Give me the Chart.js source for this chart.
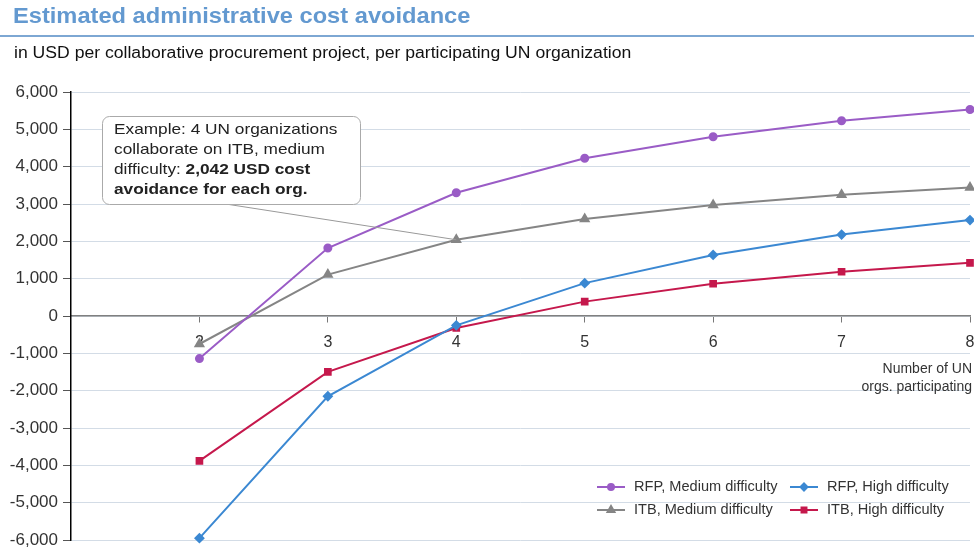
<!DOCTYPE html>
<html>
<head>
<meta charset="utf-8">
<script src="https://cdn.jsdelivr.net/npm/chart.js@4.4.1/dist/chart.umd.min.js"></script>
<style>
  body { margin: 0; background: #fff; font-family: "Liberation Sans", Arial, sans-serif; }
  #wrap { position: relative; width: 974px; height: 550px; }
  #wrap h1 { position: absolute; left: 13px; top: 3px; margin: 0; font-size: 22px; font-weight: bold; color: #6399d0; white-space: nowrap; transform: scaleX(1.075); transform-origin: left center; }
  #wrap .rule { position: absolute; left: 0; top: 35px; width: 974px; height: 2px; background: #7da7d3; }
  #wrap .sub { position: absolute; left: 14px; top: 44px; margin: 0; font-size: 16px; color: #111; white-space: nowrap; transform: scaleX(1.1); transform-origin: left center; }
  canvas { position: absolute; left: 0; top: 0; }
</style>
</head>
<body>
<div id="wrap">
  <canvas id="myChart" width="974" height="550"></canvas>
  <h1>Estimated administrative cost avoidance</h1>
  <div class="rule"></div>
  <p class="sub">in USD per collaborative procurement project, per participating UN organization</p>
</div>
<script>
// number of UN orgs participating
const orgs = [2, 3, 4, 5, 6, 7, 8];

// cost avoidance in USD
const rfpMedium = [-1140, 1820, 3300, 4225, 4800, 5230, 5530];
const rfpHigh   = [-5950, -2150, -250, 880, 1635, 2180, 2570];
const itbMedium = [-750, 1110, 2042, 2600, 2970, 3245, 3440];
const itbHigh   = [-3880, -1495, -320, 385, 865, 1185, 1425];

const seriesNames = ['RFP, Medium difficulty', 'RFP, High difficulty', 'ITB, Medium difficulty', 'ITB, High difficulty'];

const yMin = -6000, yMax = 6000, yStep = 1000;

const toPoints = vals => vals.map((v, i) => ({x: orgs[i], y: v}));

const FONT = '"Liberation Sans", Arial, sans-serif';

// the source picture is a bit stretched sideways, so text gets widened
function wideText(ctx, text, x, y, sx) {
  ctx.save();
  ctx.translate(x, y);
  ctx.scale(sx, 1);
  ctx.fillText(text, 0, 0);
  ctx.restore();
  return ctx.measureText(text).width * sx;
}

const notePlugin = {
  id: 'note',
  afterDraw: (chart) => {
    const {ctx, chartArea} = chart;
    const xs = chart.scales.x, ys = chart.scales.y;
    ctx.save();

    // x axis caption
    ctx.fillStyle = '#333';
    ctx.font = '14px ' + FONT;
    ctx.textAlign = 'right';
    ctx.textBaseline = 'middle';
    ctx.fillText('Number of UN', chartArea.right + 2, 369);
    ctx.fillText('orgs. participating', chartArea.right + 2, 387);

    // leader line to the example point (ITB, medium, 4 orgs)
    const px = xs.getPixelForValue(orgs[2]);
    const py = ys.getPixelForValue(itbMedium[2]);
    ctx.strokeStyle = '#999';
    ctx.lineWidth = 1;
    ctx.beginPath();
    ctx.moveTo(200, 200);
    ctx.lineTo(px, py);
    ctx.stroke();

    // callout box
    const bx = 102, by = 116, bw = 258, bh = 88, r = 7;
    ctx.fillStyle = '#fff';
    ctx.strokeStyle = '#aaa';
    ctx.beginPath();
    ctx.roundRect(bx + 0.5, by + 0.5, bw, bh, r);
    ctx.fill();
    ctx.stroke();

    ctx.textAlign = 'left';
    ctx.fillStyle = '#222';
    const sx = 1.15;
    ctx.font = '15px ' + FONT;
    wideText(ctx, 'Example: 4 UN organizations', 114, 130, sx);
    wideText(ctx, 'collaborate on ITB, medium', 114, 150, sx);
    const w = wideText(ctx, 'difficulty: ', 114, 170, sx);
    ctx.font = 'bold 15px ' + FONT;
    wideText(ctx, '2,042 USD cost', 114 + w, 170, sx);
    wideText(ctx, 'avoidance for each org.', 114, 190, sx);

    // legend
    const cols = [597, 790];
    const rows = [487, 510];
    ctx.font = '14px ' + FONT;
    chart.data.datasets.forEach((ds, i) => {
      const lx = cols[i % 2], ly = rows[Math.floor(i / 2)];
      ctx.strokeStyle = ds.borderColor;
      ctx.fillStyle = ds.backgroundColor;
      ctx.lineWidth = 2;
      ctx.beginPath();
      ctx.moveTo(lx, ly);
      ctx.lineTo(lx + 28, ly);
      ctx.stroke();
      Chart.helpers.drawPoint(ctx, {
        pointStyle: ds.pointStyle,
        radius: ds.pointRadius - 0.5,
        rotation: 0,
        borderWidth: 1
      }, lx + 14, ly);
      ctx.fillStyle = '#333';
      wideText(ctx, ds.label, lx + 37, ly, 1.04);
    });

    ctx.restore();
  }
};

const mk = (label, vals, color, style, radius) => ({
  label: label,
  data: toPoints(vals),
  borderColor: color,
  backgroundColor: color,
  pointBackgroundColor: color,
  pointBorderColor: color,
  pointStyle: style,
  pointRadius: radius,
  borderWidth: 2,
  tension: 0,
  clip: false
});

const data = {
  datasets: [
    mk(seriesNames[0], rfpMedium, '#9a5cc6', 'circle', 3.5),
    mk(seriesNames[1], rfpHigh, '#3b88d2', 'rectRot', 4),
    mk(seriesNames[2], itbMedium, '#858585', 'triangle', 4.5),
    mk(seriesNames[3], itbHigh, '#c5184c', 'rect', 4)
  ]
};

const config = {
  type: 'line',
  data: data,
  options: {
    responsive: false,
    animation: false,
    layout: { autoPadding: false, padding: { top: 92, bottom: 10, left: 0, right: 4 } },
    plugins: {
      legend: { display: false },
      tooltip: { enabled: false }
    },
    scales: {
      x: {
        type: 'linear',
        position: { y: 0 },
        min: 1,
        max: 8,
        afterBuildTicks: (scale) => {
          scale.ticks = orgs.map(v => ({ value: v }));
        },
        afterFit: (scale) => { scale.paddingLeft = 0; scale.paddingRight = 0; },
        ticks: {
          padding: 11,
          color: '#333',
          font: { family: FONT, size: 16 },
          callback: (v) => String(v)
        },
        grid: { drawOnChartArea: false, drawTicks: true, tickLength: 6, color: '#777' },
        border: { color: '#808080', width: 1.5 }
      },
      y: {
        type: 'linear',
        min: yMin,
        max: yMax,
        afterFit: (scale) => { scale.width = 71; scale.paddingTop = 0; scale.paddingBottom = 0; },
        ticks: {
          stepSize: yStep,
          padding: 5,
          color: '#333',
          font: { family: FONT, size: 17 },
          callback: (v) => v.toLocaleString('en-US')
        },
        grid: { color: '#d3dce6', tickColor: '#555', tickLength: 8 },
        border: { color: '#000', width: 1.5 }
      }
    }
  },
  plugins: [notePlugin]
};

const myChart = new Chart(document.getElementById('myChart'), config);
</script>
</body>
</html>
